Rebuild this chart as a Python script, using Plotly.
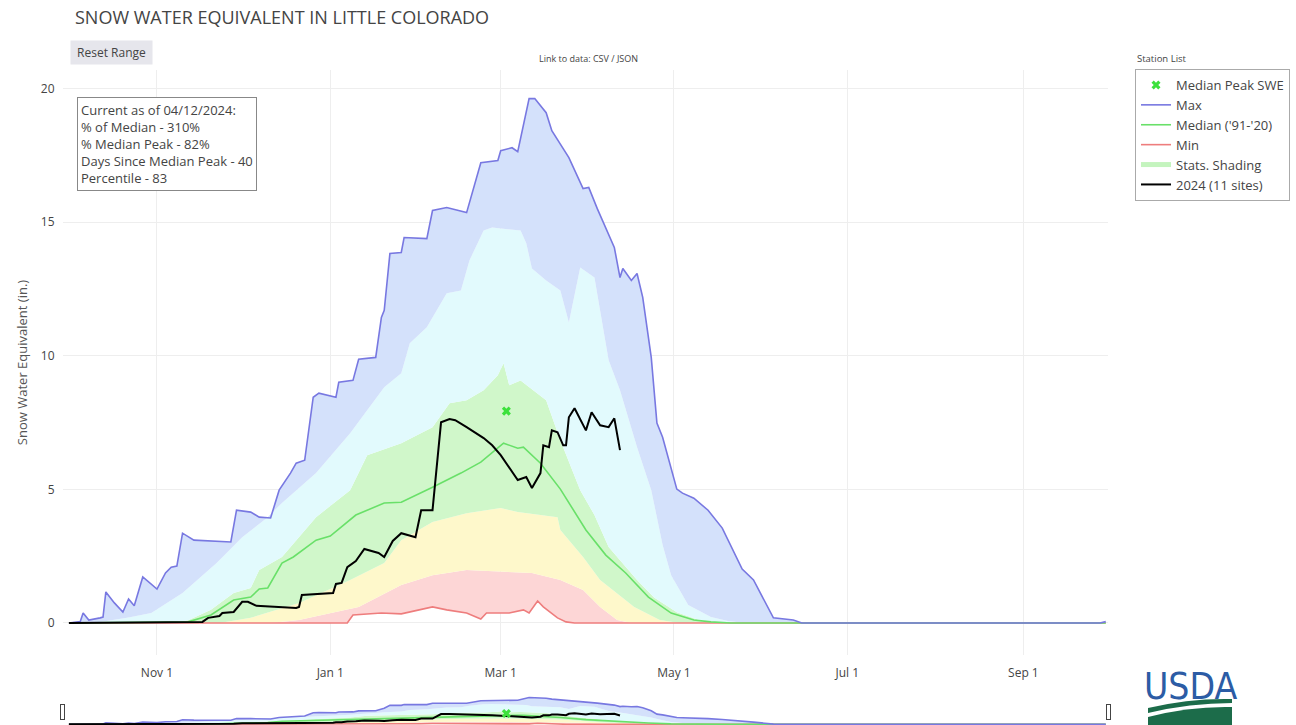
import plotly.graph_objects as go
import pandas as pd

# ---------------- data (day of water year, starting 2023-10-01) ----------------
WY_START = "2023-10-01"
TITLE = "SNOW WATER EQUIVALENT IN LITTLE COLORADO"

max_days = [0, 4, 5, 7, 11, 12, 13, 16, 19, 21, 23, 26, 31, 34, 36, 38, 40, 44, 57, 59,
            64, 67, 71, 74, 78, 80, 83, 86, 88, 94, 95, 100, 102, 108, 110, 111, 113, 117, 118, 126,
            128, 133, 140, 145, 151, 152, 156, 158, 162, 164, 168, 170, 176, 181, 183, 186, 192, 194, 195, 198,
            200, 202, 205, 207, 209, 214, 216, 220, 225, 230, 237, 241, 248, 255, 258, 363, 365]
max_vals = [0, 0.05, 0.37, 0.11, 0.19, 0.22, 1.16, 0.75, 0.41, 0.90, 0.64, 1.72, 1.27, 1.87, 2.09, 2.13, 3.36, 3.10, 3.03, 4.22,
            4.15, 3.96, 3.93, 4.97, 5.61, 5.98, 6.09, 8.45, 8.60, 8.45, 9.01, 9.08, 9.87, 9.94, 11.44, 11.70, 13.83, 13.87, 14.43, 14.39,
            15.44, 15.55, 15.36, 17.23, 17.31, 17.68, 17.79, 17.64, 19.63, 19.63, 19.10, 18.43, 17.42, 16.26, 16.30, 15.51, 14.06, 12.93, 13.27, 12.82,
            13.08, 12.19, 9.94, 7.48, 6.95, 5.01, 4.86, 4.67, 4.22, 3.55, 2.02, 1.61, 0.19, 0.11, 0, 0, 0.05]

p90_days = [0, 11, 21, 29, 40, 52, 61, 70, 75, 87, 99, 111, 117, 120, 126, 133, 138, 141, 146, 149,
            159, 161, 163, 168, 173, 176, 180, 185, 190, 194, 200, 205, 209, 212, 218, 226, 232, 238, 365]
p90_vals = [0, 0.04, 0.2, 0.37, 1.12, 2.24, 3.21, 3.96, 4.49, 5.61, 7.10, 8.82, 9.35, 10.47, 11.07, 12.34, 12.45, 13.57, 14.69, 14.80,
            14.69, 14.21, 13.27, 12.82, 12.45, 11.25, 13.31, 12.93, 9.83, 8.71, 6.58, 4.97, 2.92, 1.79, 0.67, 0.22, 0.07, 0, 0]

p70_days = [0, 36, 42, 50, 58, 64, 67, 75, 87, 99, 105, 117, 128, 134, 140, 146, 151, 153, 155, 159,
            168, 173, 180, 185, 190, 200, 206, 214, 222, 230, 365]
p70_vals = [0, 0, 0.1, 0.49, 1.12, 1.31, 1.98, 2.47, 3.96, 4.97, 6.28, 6.73, 7.33, 8.22, 8.34, 8.71, 9.27, 9.72, 8.90, 9.08,
            8.34, 6.84, 4.97, 4.04, 2.84, 1.61, 0.95, 0.40, 0.10, 0, 0]

p30_days = [0, 53, 64, 81, 99, 111, 117, 128, 140, 152, 158, 172, 173, 181, 187, 199, 208, 215, 365]
p30_vals = [0, 0, 0.19, 0.75, 1.61, 2.24, 3.10, 3.78, 4.11, 4.30, 4.15, 3.96, 3.48, 2.47, 1.61, 0.60, 0.11, 0, 0]

p10_days = [0, 71, 81, 102, 117, 128, 140, 152, 163, 173, 181, 187, 193, 198, 365]
p10_vals = [0, 0, 0.11, 0.6, 1.42, 1.79, 1.98, 1.91, 1.87, 1.61, 1.23, 0.60, 0.11, 0, 0]

min_days = [0, 98, 100, 110, 117, 124, 128, 133, 140, 145, 147, 155, 160, 162, 165, 167, 172, 175, 178, 365]
min_vals = [0, 0, 0.30, 0.37, 0.34, 0.49, 0.60, 0.49, 0.37, 0.15, 0.37, 0.37, 0.49, 0.37, 0.82, 0.60, 0.19, 0.04, 0, 0]

median_days = [0, 39, 42, 50, 58, 64, 67, 70, 75, 79, 87, 92, 96, 101, 111, 117, 128, 138, 145, 151,
               153, 158, 160, 166, 173, 182, 189, 196, 204, 212, 220, 226, 233, 365]
median_vals = [0, 0.02, 0.04, 0.30, 0.86, 0.97, 1.27, 1.31, 2.24, 2.47, 3.10, 3.25, 3.59, 4.04, 4.49, 4.52, 5.08, 5.61, 6.02, 6.58,
               6.73, 6.54, 6.58, 5.98, 5.01, 3.48, 2.54, 1.87, 0.97, 0.37, 0.11, 0.04, 0, 0]

wy2024_days = [0, 46, 47, 49, 53, 54, 58, 61, 63, 66, 80, 81, 82, 93, 94, 96, 98, 101, 104, 109,
               111, 114, 117, 122, 124, 128, 131, 134, 136, 140, 146, 149, 152, 158, 161, 163, 166, 167, 169, 170,
               172, 174, 175, 176, 178, 182, 184, 187, 190, 192, 194]
wy2024_vals = [0, 0.02, 0.04, 0.19, 0.26, 0.37, 0.41, 0.79, 0.79, 0.64, 0.56, 0.60, 1.05, 1.12, 1.46, 1.50, 2.09, 2.32, 2.77, 2.62,
               2.47, 3.07, 3.36, 3.21, 4.22, 4.22, 7.51, 7.63, 7.59, 7.33, 6.92, 6.65, 6.28, 5.35, 5.46, 5.05, 5.61, 6.65, 6.58, 7.21,
               7.14, 6.65, 6.65, 7.70, 8.04, 7.21, 7.89, 7.40, 7.33, 7.66, 6.47]

peak_days = [154]
peak_vals = [7.93]

stats_lines = ["Current as of 04/12/2024:", "% of Median - 310%", "% Median Peak - 82%",
               "Days Since Median Peak - 40", "Percentile - 83"]
y_ticks = [0, 5, 10, 15, 20]
x_tick0 = "2023-11-01"
x_range = ["2023-09-28 22:00", "2024-09-30 19:00"]
y_range = [-1.2, 20.7]

# ---------------- helpers ----------------
start = pd.Timestamp(WY_START)


def to_dates(days):
    return [start + pd.Timedelta(days=d) for d in days]


W, H = 1296, 725
L, R, T, B = 63, 1108, 70, 655


def px_x(x):
    return (x - L) / (R - L)


def px_y(y):
    return (B - y) / (B - T)


C_MAX = "rgb(120,120,225)"
C_MED = "rgb(105,224,105)"
C_MIN = "rgb(238,125,125)"
F_MAX = "rgb(212,225,251)"
F_90 = "rgb(226,250,253)"
F_70 = "rgb(208,247,202)"
F_30 = "rgb(254,248,203)"
F_10 = "rgb(253,214,214)"

fig = go.Figure()

# shading bands (stacked with tonexty)
fig.add_trace(go.Scatter(x=to_dates(min_days), y=min_vals, mode="lines", line=dict(width=0),
                         showlegend=False, hoverinfo="skip"))
for d, v, c in [(p10_days, p10_vals, F_10), (p30_days, p30_vals, F_30), (p70_days, p70_vals, F_70),
                (p90_days, p90_vals, F_90), (max_days, max_vals, F_MAX)]:
    fig.add_trace(go.Scatter(x=to_dates(d), y=v, mode="lines", line=dict(width=0), fill="tonexty",
                             fillcolor=c, showlegend=False, hoverinfo="skip"))

# lines
fig.add_trace(go.Scatter(x=to_dates(min_days), y=min_vals, mode="lines", name="Min",
                         line=dict(color=C_MIN, width=1.6), legendrank=4))
fig.add_trace(go.Scatter(x=to_dates(median_days), y=median_vals, mode="lines", name="Median ('91-'20)",
                         line=dict(color=C_MED, width=1.6), legendrank=3))
fig.add_trace(go.Scatter(x=to_dates(max_days), y=max_vals, mode="lines", name="Max",
                         line=dict(color=C_MAX, width=1.6), legendrank=2))
fig.add_trace(go.Scatter(x=[None], y=[None], mode="lines", name="Stats. Shading",
                         line=dict(color="rgb(196,244,190)", width=5), legendrank=5))
fig.add_trace(go.Scatter(x=to_dates(wy2024_days), y=wy2024_vals, mode="lines", name="2024 (11 sites)",
                         line=dict(color="black", width=2), legendrank=6))
fig.add_trace(go.Scatter(x=to_dates(peak_days), y=peak_vals, mode="markers", name="Median Peak SWE",
                         marker=dict(symbol="x", color="rgb(60,225,60)", size=8, line=dict(width=0)),
                         legendrank=1))

fig.update_layout(
    width=W, height=H,
    template="none",
    paper_bgcolor="white", plot_bgcolor="white",
    margin=dict(l=L, r=W - R, t=T, b=H - B, autoexpand=False),
    font=dict(family="Open Sans", color="#444", size=12),
    title=dict(text=TITLE, x=75 / W, xanchor="left", xref="container",
               y=1 - 18 / H, yanchor="middle", yref="container",
               font=dict(size=18, color="#444")),
    showlegend=True,
    legend=dict(x=px_x(1135), y=px_y(69), xanchor="left", yanchor="top", traceorder="normal",
                bordercolor="#aaa", borderwidth=1, bgcolor="white",
                font=dict(size=13, color="#444"), itemwidth=30, tracegroupgap=0),
    xaxis=dict(type="date", range=x_range, tickformat="%b %-d", dtick="M2", tick0=x_tick0,
               showgrid=True, gridcolor="#eeeeee", zeroline=False, showline=False,
               ticks="outside", ticklen=7, tickcolor="rgba(0,0,0,0)",
               tickfont=dict(size=12, color="#444"),
               rangeslider=dict(visible=True, thickness=0.0513, bgcolor="white", borderwidth=0)),
    yaxis=dict(range=y_range, tickvals=y_ticks, showgrid=True, gridcolor="#eeeeee",
               zeroline=False, showline=False, ticks="outside", ticklen=5, tickcolor="rgba(0,0,0,0)",
               tickfont=dict(size=12, color="#444"),
               title=dict(text="Snow Water Equivalent (in.)", font=dict(size=13, color="#555"))),
    annotations=[
        dict(text="&nbsp;Reset Range&nbsp;", x=px_x(70), y=px_y(40), xref="paper", yref="paper",
             xanchor="left", yanchor="top", showarrow=False, bgcolor="#e6e6ec",
             borderpad=3, font=dict(size=12, color="#444")),
        dict(text="<br>".join(stats_lines), x=px_x(77), y=px_y(97), xref="paper", yref="paper",
             xanchor="left", yanchor="top", align="left", showarrow=False,
             bordercolor="#888", borderwidth=1, borderpad=3, bgcolor="white",
             font=dict(size=13, color="#444")),
        dict(text="Link to data: CSV / JSON", x=px_x(588), y=px_y(58), xref="paper", yref="paper",
             xanchor="center", yanchor="middle", showarrow=False, font=dict(size=9, color="#444")),
        dict(text="Station List", x=px_x(1135), y=px_y(58), xref="paper", yref="paper",
             xanchor="left", yanchor="middle", showarrow=False, font=dict(size=9.5, color="#444")),
        dict(text="USDA", x=px_x(1190), y=px_y(686), xref="paper", yref="paper",
             xanchor="center", yanchor="middle", showarrow=False,
             font=dict(size=37, color="rgb(44,92,165)",
                       family="DejaVu Sans Condensed, Liberation Sans Narrow, Arial Narrow, sans-serif")),
    ],
    shapes=[
        dict(type="path", xref="paper", yref="paper", fillcolor="rgb(28,108,74)", line=dict(width=0),
             path=f"M {px_x(1148)},{px_y(708)} Q {px_x(1190)},{px_y(698)} {px_x(1232)},{px_y(699)} "
                  f"L {px_x(1232)},{px_y(703)} Q {px_x(1190)},{px_y(703)} {px_x(1148)},{px_y(713)} Z"),
        dict(type="path", xref="paper", yref="paper", fillcolor="rgb(28,108,74)", line=dict(width=0),
             path=f"M {px_x(1148)},{px_y(717)} Q {px_x(1190)},{px_y(706)} {px_x(1232)},{px_y(707)} "
                  f"L {px_x(1232)},{px_y(725)} L {px_x(1148)},{px_y(725)} Z"),
    ],
)

fig.write_html("out.html", config={"displayModeBar": False},
               post_script="document.body.style.margin='0';document.body.style.overflow='hidden';")
